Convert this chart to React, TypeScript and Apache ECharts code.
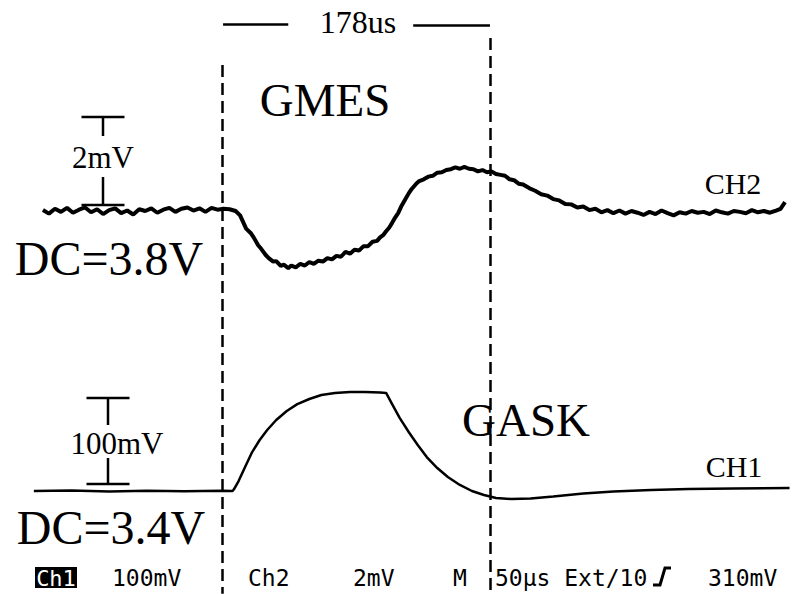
import React, { useEffect, useRef } from "react";
import * as echarts from "echarts";

// CH2 (GMES) — time in µs relative to first marker, value in mV (AC, relative to 3.8 V DC)
const ch2Time = [
  -119, -115, -111, -107, -103, -99, -95, -91, -87, -83, -79, -75, -71, -67, -63, -59, -55, -51, -47, -43,
  -39, -35, -31, -27, -23, -19, -15, -11, -7, -3, 1, 5, 9, 12,
  16, 19, 21, 24, 26, 29, 31, 34, 36, 39, 41, 44, 46, 49, 52, 55, 58, 61, 64, 67, 70, 73, 76, 79, 82, 85,
  88, 91, 94, 97, 100, 103, 105, 107, 109, 111, 113, 115, 117, 119, 121, 124, 126, 129, 131, 134, 137,
  140, 143, 146, 149, 152, 155, 158, 161, 164, 167, 170, 173, 176, 179, 182, 185, 188, 191, 194, 197,
  200, 204, 208, 212, 216, 220, 224, 228, 232, 236, 240, 244, 248, 252, 256, 260, 264, 268, 272, 276,
  280, 284, 288, 292, 296, 300, 304, 308, 312, 316, 320, 324, 328, 332, 336, 340, 344, 348, 352, 356,
  360, 364, 368, 371, 374,
];
const ch2Values = [
  0.02, -0.06, 0.05, -0.02, 0.07, -0.04, 0.03, 0.08, -0.03, 0.04, -0.07, 0.02, 0.06, -0.05, 0.01, -0.08,
  0.04, 0.0, 0.06, -0.04, 0.03, 0.07, -0.02, 0.05, 0.08, 0.01, 0.06, -0.02, 0.07, 0.03, 0.05, 0.04, 0.0,
  -0.1,
  -0.4, -0.5, -0.6, -0.78, -0.86, -1.0, -1.07, -1.15, -1.14, -1.25, -1.22, -1.3, -1.24, -1.28, -1.2, -1.24,
  -1.16, -1.2, -1.13, -1.15, -1.07, -1.1, -1.02, -1.04, -0.93, -0.97, -0.88, -0.9, -0.8, -0.8, -0.7, -0.68,
  -0.6, -0.55, -0.46, -0.38, -0.27, -0.15, -0.05, 0.1, 0.22, 0.4, 0.5, 0.62, 0.68, 0.72, 0.78, 0.8, 0.87,
  0.88, 0.93, 0.95, 0.99, 0.96, 1.0, 0.96, 0.95, 0.9, 0.93, 0.88, 0.9, 0.84, 0.82, 0.8, 0.72, 0.7, 0.62,
  0.6, 0.52, 0.46, 0.38, 0.35, 0.27, 0.24, 0.16, 0.15, 0.08, 0.1, 0.02, 0.05, -0.03, 0.02, -0.05, 0.01,
  -0.06, 0.0, -0.04, -0.09, -0.02, -0.07, 0.01, -0.05, -0.1, -0.03, -0.06, 0.0, -0.04, -0.02, -0.07, 0.01,
  -0.03, -0.06, 0.0, -0.02, -0.05, 0.02, -0.03, 0.0, -0.04, 0.01, 0.05, 0.2,
];

// CH1 (GASK) — time in µs, value in mV (AC, relative to 3.4 V DC)
const ch1Time = [
  -125, -100, -75, -50, -25, 0, 7, 8, 11, 15, 20, 25, 30, 36, 43, 50, 58, 66, 75, 85, 95, 105, 109, 113,
  118, 124, 130, 136, 143, 150, 158, 166, 174, 182, 192, 205, 220, 240, 260, 285, 310, 340, 377,
];
const ch1Values = [
  0, 0.5, -0.5, 0.3, -0.3, 0.4, 0, 2.3, 11.6, 26.7, 45.3, 59.3, 70.9, 82.6, 93, 101, 107, 111.6, 114, 115,
  115, 114.5, 114, 101, 85, 68.6, 53.5, 39.5, 26.7, 16.3, 7, 0, -4.7, -8.1, -9.3, -8.7, -6.4, -2.9, -0.6,
  1.2, 2.3, 2.9, 3.5,
];

// Cursor markers (µs) and the measured interval
const cursorTimes = [0, 178];
const intervalLabel = "178us";

// Scope status line
const statusItems = ["100mV", "Ch2", "2mV", "M", "50µs Ext/10", "310mV"];

const W = 793;
const H = 594;

export default function App() {
  const ref = useRef<HTMLDivElement>(null);

  useEffect(() => {
    if (!ref.current) return;
    const chart = echarts.init(ref.current, undefined, { renderer: "svg" });

    const serif = "'Liberation Serif', 'Times New Roman', serif";
    const mono = "'DejaVu Sans Mono', monospace";

    const pairs = (t: number[], v: number[]) => t.map((x, i) => [x, v[i]]);

    const bracket = (cx: number, top: number, bottom: number, half: number, gapTop: number, gapBottom: number) => [
      { type: "line", shape: { x1: cx - half, y1: top, x2: cx + half, y2: top }, style: { stroke: "#000", lineWidth: 2.5 } },
      { type: "line", shape: { x1: cx, y1: top, x2: cx, y2: gapTop }, style: { stroke: "#000", lineWidth: 2.5 } },
      { type: "line", shape: { x1: cx, y1: gapBottom, x2: cx, y2: bottom }, style: { stroke: "#000", lineWidth: 2.5 } },
      { type: "line", shape: { x1: cx - half, y1: bottom, x2: cx + half, y2: bottom }, style: { stroke: "#000", lineWidth: 2.5 } },
    ];

    const txt = (text: string, x: number, y: number, size: number, family: string, align = "center", fill = "#000") => ({
      type: "text",
      x,
      y,
      style: { text, fontSize: size, fontFamily: family, fill, align, verticalAlign: "middle" },
    });

    const statusX = [112, 248, 353, 453, 495, 708];
    const dash = { type: [12, 6], width: 2.5, color: "#000" };

    chart.setOption({
      animation: false,
      backgroundColor: "#fff",
      grid: { left: 0, right: 0, top: 0, bottom: 0, containLabel: false },
      xAxis: { type: "value", min: -147.5, max: 379.3, show: false },
      yAxis: [
        { type: "value", min: -8.705, max: 4.795, show: false },
        { type: "value", min: -119.77, max: 570.93, show: false },
      ],
      series: [
        {
          name: "CH2",
          type: "line",
          yAxisIndex: 0,
          data: pairs(ch2Time, ch2Values),
          showSymbol: false,
          lineStyle: { color: "#000", width: 4 },
          markLine: {
            silent: true,
            symbol: ["none", "none"],
            label: { show: false },
            data: [
              [
                { coord: [cursorTimes[0], 3.32], lineStyle: dash },
                { coord: [cursorTimes[0], -8.7] },
              ],
              [
                { coord: [cursorTimes[1], 3.93], lineStyle: dash },
                { coord: [cursorTimes[1], -8.7] },
              ],
              [
                { coord: [cursorTimes[0] + 0.7, 4.25], lineStyle: { type: "solid", width: 2.5, color: "#000" } },
                { coord: [44, 4.25] },
              ],
              [
                { coord: [127, 4.23], lineStyle: { type: "solid", width: 2.5, color: "#000" } },
                { coord: [cursorTimes[1], 4.23] },
              ],
            ],
          },
        },
        {
          name: "CH1",
          type: "line",
          yAxisIndex: 1,
          data: pairs(ch1Time, ch1Values),
          showSymbol: false,
          lineStyle: { color: "#000", width: 2.5 },
        },
      ],
      graphic: [
        txt(intervalLabel, 358, 22, 32, serif),
        txt("GMES", 325, 100, 47, serif),
        txt("2mV", 103, 157, 31, serif),
        txt("DC=3.8V", 109, 258, 48, serif),
        txt("CH2", 733, 183, 30, serif),
        txt("100mV", 117, 443, 31, serif),
        txt("DC=3.4V", 111, 527, 48, serif),
        txt("GASK", 526, 420, 47, serif),
        txt("CH1", 734, 466, 30, serif),
        ...bracket(103, 117, 205, 21.5, 136, 177),
        ...bracket(108, 398, 484, 21.5, 425, 458),
        { type: "rect", shape: { x: 35, y: 567, width: 42, height: 21 }, style: { fill: "#000" } },
        txt("Ch1", 56, 578, 22, mono, "center", "#fff"),
        ...statusItems.map((s, i) => txt(s, statusX[i], 578, 23, mono, "left")),
        {
          type: "polyline",
          shape: { points: [[653, 585], [660, 585], [665, 568], [671, 568]] },
          style: { stroke: "#000", lineWidth: 3, fill: "none" },
        },
      ],
    });

    return () => chart.dispose();
  }, []);

  return <div ref={ref} style={{ position: "absolute", left: 0, top: 0, width: W, height: H }} />;
}
